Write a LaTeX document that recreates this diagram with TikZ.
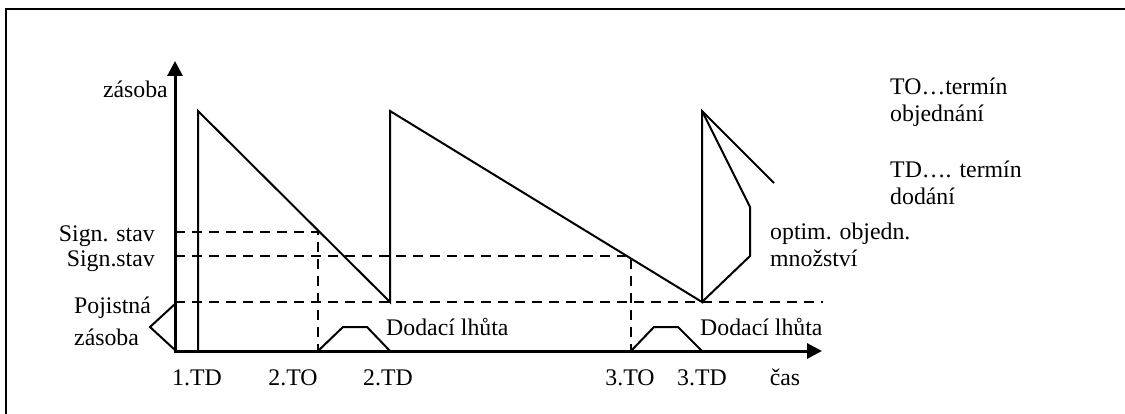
\documentclass[tikz,border=0pt]{standalone}
\usepackage{fontspec}
\setmainfont{Liberation Serif}
\usetikzlibrary{arrows.meta}
\begin{document}
\begin{tikzpicture}[x=1pt,y=-1pt,
  lbl/.style={inner sep=0pt, font=\fontsize{23.8}{28}\selectfont},
  axis/.style={line width=3pt, line join=miter, {Triangle[length=15pt,width=15pt]}-{Triangle[length=15pt,width=15pt]}},
  curve/.style={line width=2pt, line join=miter},
  guide/.style={line width=2pt, dash pattern=on 10pt off 7pt},
  frame/.style={line width=2.5pt}]
\useasboundingbox (0,0) rectangle (1125,414);
% frame
\coordinate (fa) at (6,414);
\coordinate (fb) at (6,9);
\coordinate (fc) at (1125,9);
\draw[frame] (fa) -- (fb) -- (fc);
% coordinates
\coordinate (O) at (175,351);
\coordinate (xend) at (822,351);
\coordinate (yend) at (175,61);
\coordinate (td1) at (198,351);
\coordinate (p1) at (198,111);
\coordinate (b1) at (390,302);
\coordinate (td2) at (390,351);
\coordinate (p2) at (390,111);
\coordinate (b2) at (702,302);
\coordinate (td3) at (702,351);
\coordinate (p3) at (702,111);
\coordinate (e1) at (774,183);
\coordinate (k1) at (750,207);
\coordinate (k2) at (750,256);
\coordinate (s1) at (175,232);
\coordinate (to2top) at (318,232);
\coordinate (to2) at (318,351);
\coordinate (s2) at (175,256);
\coordinate (to3top) at (631,256);
\coordinate (to3) at (631,351);
\coordinate (s0) at (175,302);
\coordinate (s0end) at (823,302);
\coordinate (br1) at (175,304);
\coordinate (br2) at (150,327);
\coordinate (br3) at (175,350);
% dashed guides
\draw[guide] (s1) -- (to2top) -- (to2);
\draw[guide] (s2) -- (to3top) -- (to3);
\draw[guide] (s0) -- (s0end);
% stock curve
\draw[curve] (td1) -- (p1) -- (b1) -- (p2) -- (b2) -- (p3) -- (e1);
\draw[curve] (p3) -- (k1) -- (k2) -- (b2);
% delivery lead time
\draw[curve] (to2) -- ++(25,-24) -- ++(24,0) -- (td2);
\draw[curve] (to3) -- ++(23,-24) -- ++(24,0) -- (td3);
% safety stock bracket
\draw[curve] (br1) -- (br2) -- (br3);
% axes
\draw[axis] (yend) -- (O) -- (xend);
% labels
\node[lbl, anchor=base east] (zas) at (168,98) {zásoba};
\node[lbl, anchor=base east] (sig1) at (155,242) {Sign. stav};
\node[lbl, anchor=base east] (sig2) at (155,266) {Sign.stav};
\node[lbl, anchor=base west] (poj1) at (74,313) {Pojistná};
\node[lbl, anchor=base west] (poj2) at (74,345) {zásoba};
\node[lbl, anchor=base west] (dod1) at (386,335) {Dodací lhůta};
\node[lbl, anchor=base west] (dod2) at (700,335) {Dodací lhůta};
\node[lbl, anchor=base] (l1) at (197,385) {1.TD};
\node[lbl, anchor=base] (l2) at (293,385) {2.TO};
\node[lbl, anchor=base] (l3) at (388,385) {2.TD};
\node[lbl, anchor=base] (l4) at (630,385) {3.TO};
\node[lbl, anchor=base] (l5) at (702,385) {3.TD};
\node[lbl, anchor=base] (l6) at (785,385) {čas};
\node[lbl, anchor=base west] (opt1) at (770,240) {optim. objedn.};
\node[lbl, anchor=base west] (opt2) at (770,267) {množství};
\node[lbl, anchor=base west] (leg1) at (890,95) {TO…termín};
\node[lbl, anchor=base west] (leg2) at (890,122) {objednání};
\node[lbl, anchor=base west] (leg3) at (890,178) {TD…. termín};
\node[lbl, anchor=base west] (leg4) at (890,205) {dodání};
\end{tikzpicture}
\end{document}
